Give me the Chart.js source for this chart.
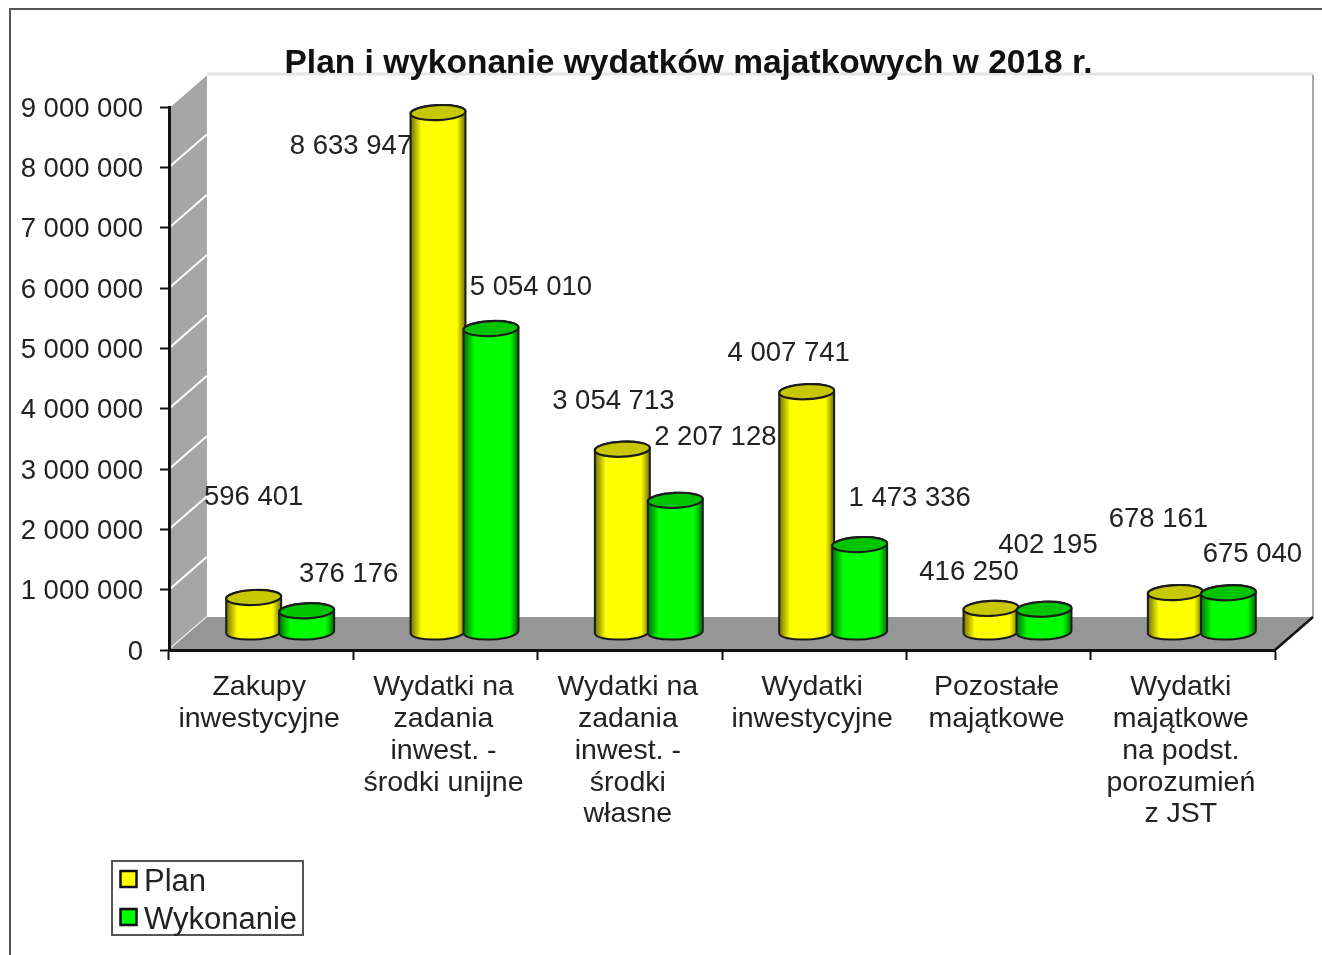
<!DOCTYPE html>
<html lang="pl">
<head>
<meta charset="utf-8">
<title>Plan i wykonanie wydatków majątkowych</title>
<script src="https://cdn.jsdelivr.net/npm/chart.js@4/dist/chart.umd.js"></script>
<style>
    html, body { margin: 0; padding: 0; background: #fff; }
    canvas { display: block; filter: blur(0.7px); }
</style>
</head>
<body>
<canvas id="chart" width="1322" height="955"></canvas>
<script>
(() => {
    const categories = [
        ['Zakupy', 'inwestycyjne'],
        ['Wydatki na', 'zadania', 'inwest. -', 'środki unijne'],
        ['Wydatki na', 'zadania', 'inwest. -', 'środki', 'własne'],
        ['Wydatki', 'inwestycyjne'],
        ['Pozostałe', 'majątkowe'],
        ['Wydatki', 'majątkowe', 'na podst.', 'porozumień', 'z JST']
    ];
    const planValues = [596401, 8633947, 3054713, 4007741, 416250, 678161];
    const doneValues = [376176, 5054010, 2207128, 1473336, 402195, 675040];
    const titleText = 'Plan i wykonanie wydatków majatkowych w 2018 r.';

    // the labels were dragged by hand in the original, so each has its own nudge
    const labelNudges = [
        [[0, -100], [-87, 34], [-9, -48], [-18, -38], [-22, -36], [-17, -73]],
        [[42, -36], [40, -41], [40, -63], [50, -46], [4, -64], [24, -38]]
    ];

    const FONT = '"Liberation Sans", Arial, sans-serif';
    const TEXT = '#222';
    const DEPTH_X = 38;
    const DEPTH_Y = 33;
    const shades = [
        { edge: '#6f6f00', body: '#ffff00', top: '#c8c800' },
        { edge: '#006f00', body: '#00ff00', top: '#00c400' }
    ];

    const spaced = (value) => String(value).replace(/\B(?=(\d{3})+$)/g, ' ');

    function drawCylinder(ctx, bar, shade) {
        const cx = bar.x + DEPTH_X / 2;
        const top = bar.y - DEPTH_Y / 2;
        const base = bar.base - DEPTH_Y / 2 - 1;
        const rx = bar.width / 2 + 1;
        const ry = 7.5;
        const tilt = -0.045;
        const fill = ctx.createLinearGradient(cx - rx, 0, cx + rx, 0);
        fill.addColorStop(0, shade.edge);
        fill.addColorStop(0.2, shade.body);
        fill.addColorStop(0.84, shade.body);
        fill.addColorStop(1, shade.edge);

        ctx.save();
        ctx.strokeStyle = '#1c1c1c';
        ctx.lineWidth = 2;
        ctx.beginPath();
        ctx.ellipse(cx, base, rx, ry, tilt, 0, Math.PI);
        ctx.ellipse(cx, top, rx, ry, tilt, Math.PI, Math.PI * 2);
        ctx.closePath();
        ctx.fillStyle = fill;
        ctx.fill();
        ctx.stroke();

        ctx.beginPath();
        ctx.ellipse(cx, top, rx, ry, tilt, 0, Math.PI * 2);
        ctx.fillStyle = shade.top;
        ctx.fill();
        ctx.lineWidth = 2.2;
        ctx.stroke();
        ctx.restore();
    }

    const scene = {
        id: 'scene',
        afterLayout(chart) {
            // title sits over the plot, not over the whole canvas
            chart.titleBlock.left += 51;
            chart.titleBlock.right += 51;
        },
        beforeDraw(chart) {
            const { ctx, chartArea: a } = chart;
            const backTop = a.top - 32;
            const backLeft = a.left + DEPTH_X;
            const backRight = a.right + DEPTH_X;
            const backBottom = a.bottom - DEPTH_Y;
            ctx.save();

            // picture frame
            ctx.strokeStyle = '#555';
            ctx.lineWidth = 2;
            ctx.beginPath();
            ctx.moveTo(10, chart.height);
            ctx.lineTo(10, 9);
            ctx.lineTo(chart.width, 9);
            ctx.stroke();

            // left wall
            ctx.fillStyle = '#a6a6a6';
            ctx.beginPath();
            ctx.moveTo(a.left, a.top);
            ctx.lineTo(backLeft, backTop);
            ctx.lineTo(backLeft, backBottom);
            ctx.lineTo(a.left, a.bottom);
            ctx.closePath();
            ctx.fill();

            // wall grid lines
            const y = chart.scales.y;
            ctx.strokeStyle = '#fff';
            ctx.lineWidth = 2;
            y.ticks.forEach((tick) => {
                const py = y.getPixelForValue(tick.value);
                ctx.beginPath();
                ctx.moveTo(a.left, py);
                ctx.lineTo(backLeft, py - DEPTH_Y);
                ctx.stroke();
            });

            // back wall edges
            ctx.strokeStyle = '#e4e4e4';
            ctx.lineWidth = 3;
            ctx.beginPath();
            ctx.moveTo(backLeft, backTop - 1);
            ctx.lineTo(backRight, backTop - 1);
            ctx.stroke();
            ctx.strokeStyle = '#a8a8a8';
            ctx.lineWidth = 2;
            ctx.beginPath();
            ctx.moveTo(backRight, backTop);
            ctx.lineTo(backRight, backBottom);
            ctx.stroke();

            // floor
            ctx.fillStyle = '#969696';
            ctx.beginPath();
            ctx.moveTo(a.left, a.bottom);
            ctx.lineTo(backLeft, backBottom);
            ctx.lineTo(backRight, backBottom);
            ctx.lineTo(a.right, a.bottom);
            ctx.closePath();
            ctx.fill();
            ctx.strokeStyle = '#111';
            ctx.lineWidth = 2.5;
            ctx.beginPath();
            ctx.moveTo(a.right, a.bottom);
            ctx.lineTo(backRight, backBottom);
            ctx.stroke();
            ctx.restore();
        },
        beforeDatasetDraw() {
            return false; // flat bars replaced by the cylinders below
        },
        afterDatasetsDraw(chart) {
            const { ctx } = chart;
            const metas = [chart.getDatasetMeta(0), chart.getDatasetMeta(1)];
            categories.forEach((_, i) => {
                metas.forEach((meta, d) => drawCylinder(ctx, meta.data[i], shades[d]));
            });

            ctx.save();
            ctx.font = `27.5px ${FONT}`;
            ctx.fillStyle = TEXT;
            ctx.textAlign = 'center';
            ctx.textBaseline = 'middle';
            metas.forEach((meta, d) => {
                meta.data.forEach((bar, i) => {
                    const [dx, dy] = labelNudges[d][i];
                    const value = chart.data.datasets[d].data[i];
                    ctx.fillText(spaced(value), bar.x + DEPTH_X / 2 + dx, bar.y - DEPTH_Y / 2 + dy);
                });
            });
            ctx.restore();
        },
        afterDraw(chart) {
            const { ctx } = chart;
            const rows = [880, 918];
            ctx.save();
            ctx.strokeStyle = '#555';
            ctx.lineWidth = 2;
            ctx.strokeRect(112, 861, 191, 74);
            ctx.font = `31px ${FONT}`;
            ctx.textBaseline = 'middle';
            chart.data.datasets.forEach((dataset, d) => {
                ctx.fillStyle = dataset.backgroundColor;
                ctx.fillRect(120.5, rows[d] - 9, 16, 16);
                ctx.strokeStyle = '#111';
                ctx.lineWidth = 2.5;
                ctx.strokeRect(120.5, rows[d] - 9, 16, 16);
                ctx.fillStyle = TEXT;
                ctx.fillText(dataset.label, 144, rows[d] + 2);
            });
            ctx.restore();
        }
    };

    new Chart(document.getElementById('chart'), {
        type: 'bar',
        data: {
            labels: categories,
            datasets: [
                { label: 'Plan', data: planValues, backgroundColor: '#ffff00' },
                { label: 'Wykonanie', data: doneValues, backgroundColor: '#00ff00' }
            ]
        },
        options: {
            responsive: false,
            animation: false,
            layout: { padding: { left: 0, right: 47, top: 0, bottom: 0 } },
            datasets: {
                bar: { barPercentage: 1, categoryPercentage: 0.575 }
            },
            plugins: {
                legend: { display: false },
                tooltip: { enabled: false },
                title: {
                    display: true,
                    text: titleText,
                    color: '#111',
                    font: { family: FONT, size: 33.5, weight: 'bold', lineHeight: 1.2 },
                    padding: { top: 44, bottom: 22.8 }
                }
            },
            scales: {
                x: {
                    afterFit(scale) { scale.height = 305; },
                    grid: { drawOnChartArea: false, tickLength: 10, tickColor: '#111', tickWidth: 2 },
                    border: { color: '#111', width: 3 },
                    ticks: {
                        color: TEXT,
                        autoSkip: false,
                        maxRotation: 0,
                        padding: 11,
                        labelOffset: -2,
                        font: { family: FONT, size: 28.5, lineHeight: 1.12 }
                    }
                },
                y: {
                    min: 0,
                    max: 9000000,
                    afterFit(scale) { scale.width = 169; },
                    grid: { drawOnChartArea: false, tickLength: 9, tickColor: '#111', tickWidth: 2 },
                    border: { color: '#111', width: 3 },
                    ticks: {
                        stepSize: 1000000,
                        color: TEXT,
                        padding: 17,
                        labelOffset: 2,
                        font: { family: FONT, size: 27.5 },
                        callback: (value) => spaced(value)
                    }
                }
            }
        },
        plugins: [scene]
    });
})();
</script>
</body>
</html>
